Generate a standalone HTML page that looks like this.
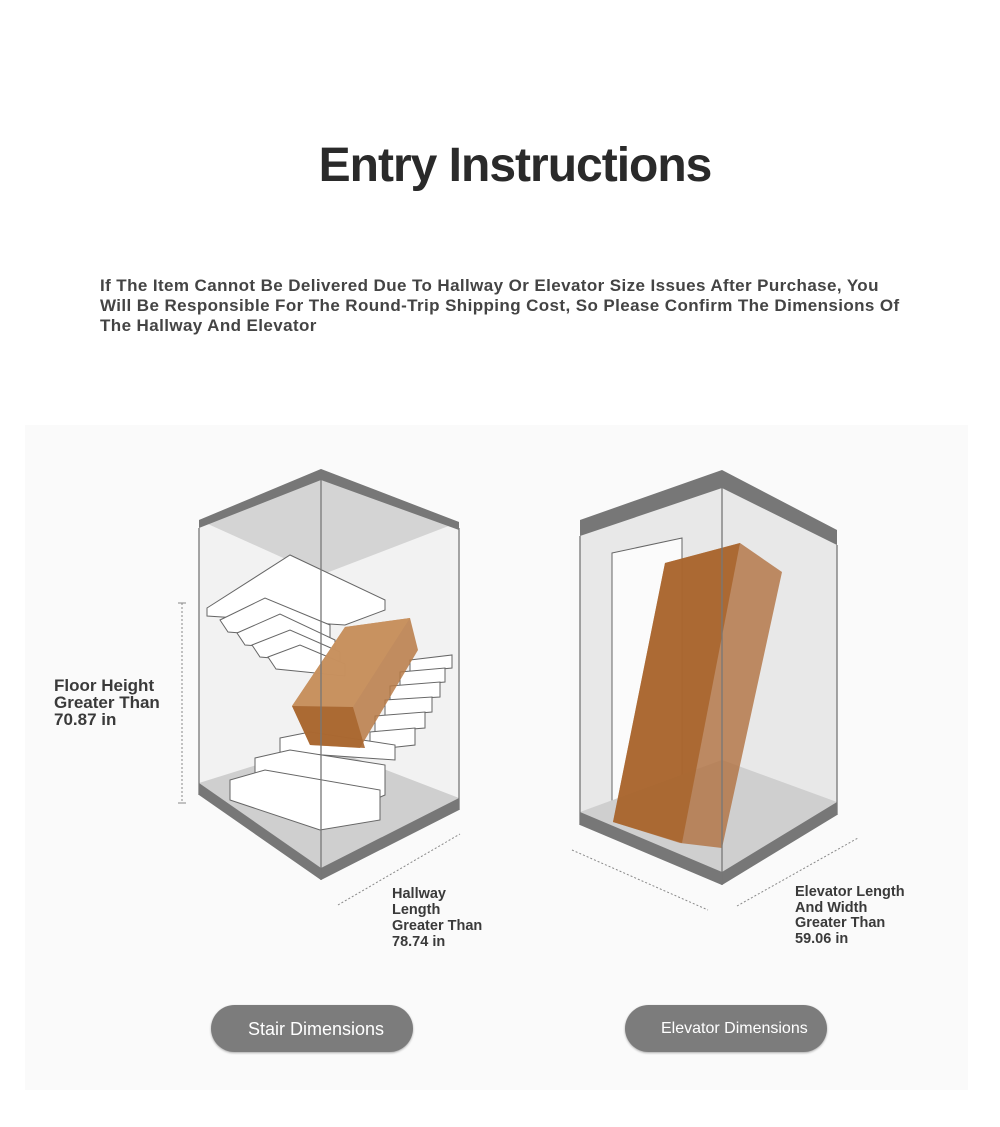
<!DOCTYPE html>
<html><head><meta charset="utf-8"><style>
html,body{margin:0;padding:0;background:#fff;}
body{width:1000px;height:1127px;position:relative;overflow:hidden;font-family:"Liberation Sans",sans-serif;}
.t{position:absolute;color:#333;}
</style></head><body>
<div style="position:absolute;left:25px;top:425px;width:943px;height:665px;background:#fafafa;"></div>
<div class="t" style="left:300px;top:138px;width:430px;text-align:center;font-size:48px;font-weight:bold;color:#2a2a2a;letter-spacing:-1px;">Entry Instructions</div>
<div class="t" style="left:100px;top:276px;width:880px;white-space:nowrap;font-size:17px;line-height:20px;font-weight:bold;color:#444;letter-spacing:0.4px;">If The Item Cannot Be Delivered Due To Hallway Or Elevator Size Issues After Purchase, You<br>Will Be Responsible For The Round-Trip Shipping Cost, So Please Confirm The Dimensions Of<br>The Hallway And Elevator</div>
<svg style="position:absolute;left:0;top:0" width="1000" height="1127">
<polygon points="199,520 321,469 459,522 459,810 321,880 199,795" fill="#f2f2f2"/>
<polygon points="199,520 321,469 459,522 321,575" fill="#d4d4d4"/>
<polygon points="199,795 321,880 459,810 459,798 321,745 199,783" fill="#cfcfcf"/>
<polygon points="199,783 321,868 459,798 459,810 321,880 199,795" fill="#777"/>
<polygon points="199,520 321,469 459,522 459,530 321,480 199,528" fill="#777"/>
<g fill="#fff" stroke="#666" stroke-width="1">
<polygon points="207,608 290,555 385,600 385,610 345,625 207,616"/>
<polygon points="220,620 265,598 330,625 330,640 228,632"/>
<polygon points="237,633 280,614 335,640 335,652 245,645"/>
<polygon points="252,645 290,630 340,652 340,664 260,657"/>
<polygon points="268,657 300,645 345,664 345,676 276,669"/>
<polygon points="410,660 452,655 452,668 410,672"/>
<polygon points="400,672 445,668 445,682 400,686"/>
<polygon points="390,686 440,682 440,697 390,700"/>
<polygon points="385,700 432,697 432,712 385,716"/>
<polygon points="375,716 425,712 425,728 375,732"/>
<polygon points="370,732 415,728 415,745 370,750"/>
<polygon points="280,738 310,732 395,745 395,760 280,752"/>
<polygon points="255,758 290,750 385,765 385,795 350,810 255,775"/>
<polygon points="230,780 265,770 380,790 380,820 320,830 230,800"/>
</g>
<polygon points="292,706 345,627 410,618 418,650 360,748 310,745" fill="#b87a45" opacity="0.85"/>
<polygon points="292,706 345,627 410,618 353,707" fill="#c99261" opacity="0.9"/>
<polygon points="292,706 353,707 365,748 310,745" fill="#a9662f" opacity="0.9"/>
<g fill="none" stroke="#777" stroke-width="1.3">
<polyline points="199,528 199,795"/><polyline points="459,528 459,810"/><polyline points="321,480 321,880"/>
</g>
<line x1="182" y1="603" x2="182" y2="803" stroke="#888" stroke-dasharray="2,2"/>
<line x1="178" y1="603" x2="186" y2="603" stroke="#888"/><line x1="178" y1="803" x2="186" y2="803" stroke="#888"/>
<line x1="338" y1="905" x2="460" y2="834" stroke="#888" stroke-dasharray="2,2"/>
<polygon points="580,520 722,470 837,530 837,815 722,885 580,825" fill="#eeeeee"/>
<polygon points="580,536 722,487 837,545 837,815 722,885 580,825" fill="#e8e8e8"/>
<polygon points="612,553 682,538 682,855 612,820" fill="#fbfbfb" stroke="#666"/>
<polygon points="580,520 722,470 837,530 837,545 722,488 580,536" fill="#777"/>
<polygon points="580,825 722,885 837,815 837,802 722,760 580,812" fill="#cfcfcf"/>
<polygon points="580,812 722,872 837,802 837,815 722,885 580,825" fill="#777"/>
<polygon points="665,563 740,543 782,572 722,848 680,843 613,822" fill="#b07040" opacity="0.8"/>
<polygon points="665,563 740,543 682,843 613,822" fill="#a8642c" opacity="0.85"/>
<g fill="none" stroke="#777" stroke-width="1.3">
<polyline points="580,536 580,825"/><polyline points="837,545 837,815"/><polyline points="722,488 722,885"/>
</g>
<line x1="572" y1="850" x2="708" y2="910" stroke="#888" stroke-dasharray="2,2"/>
<line x1="737" y1="906" x2="858" y2="838" stroke="#888" stroke-dasharray="2,2"/>
</svg>
<div class="t" style="left:54px;top:677px;font-size:17px;line-height:17px;font-weight:bold;color:#3a3a3a;">Floor Height<br>Greater Than<br>70.87 in</div>
<div class="t" style="left:392px;top:886px;font-size:14.5px;line-height:16px;font-weight:bold;color:#3a3a3a;">Hallway<br>Length<br>Greater Than<br>78.74 in</div>
<div class="t" style="left:795px;top:885px;font-size:14.5px;line-height:15.5px;font-weight:bold;color:#3a3a3a;">Elevator Length<br>And Width<br>Greater Than<br>59.06 in</div>
<div style="position:absolute;left:211px;top:1005px;width:202px;height:47px;border-radius:24px;background:#7c7c7c;color:#fff;font-size:18px;line-height:49px;box-sizing:border-box;padding-left:37px;box-shadow:0 1px 2px #aaa;">Stair Dimensions</div>
<div style="position:absolute;left:625px;top:1005px;width:202px;height:47px;border-radius:24px;background:#7c7c7c;color:#fff;font-size:16px;line-height:47px;box-sizing:border-box;padding-left:36px;box-shadow:0 1px 2px #aaa;">Elevator Dimensions</div>
</body></html>
